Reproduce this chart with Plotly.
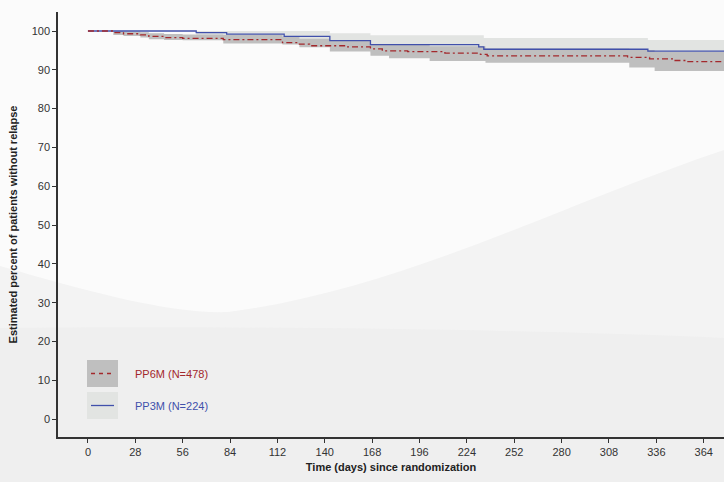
import plotly.graph_objects as go

# Kaplan-Meier estimates (percent without relapse) by arm
days_pp6m = [0, 15, 21, 31, 36, 45, 56, 80, 115, 124, 131, 153, 167, 174, 189, 211, 232, 236, 319, 332, 346, 354, 376]
surv_pp6m = [100, 99.6, 99.3, 99.0, 98.6, 98.3, 98.1, 97.8, 97.0, 96.6, 96.2, 95.9, 95.4, 94.9, 94.7, 94.3, 94.0, 93.6, 93.2, 92.8, 92.4, 92.1, 92.1]

# 95% confidence limits for PP6M
band_days_pp6m = [0, 15, 21, 31, 36, 45, 56, 80, 115, 125, 143, 167, 178, 202, 235, 320, 335, 376]
lower_pp6m = [100, 99.0, 98.7, 98.3, 97.9, 97.7, 97.6, 96.8, 96.5, 95.8, 94.7, 93.6, 93.0, 92.3, 91.8, 90.6, 89.7, 89.7]
upper_pp6m = [100, 100, 99.9, 99.7, 99.4, 99.2, 99.1, 99.0, 98.5, 98.0, 97.4, 96.6, 96.4, 96.1, 95.5, 95.1, 94.6, 94.6]

days_pp3m = [0, 64, 82, 116, 143, 167, 231, 234, 331, 376]
surv_pp3m = [100, 99.6, 99.2, 98.6, 97.5, 96.5, 95.9, 95.3, 94.8, 94.8]
lower_pp3m = [100, 98.6, 98.0, 97.2, 95.8, 94.4, 93.8, 93.0, 92.4, 92.4]
upper_pp3m = [100, 100, 100, 100, 99.4, 98.9, 98.9, 98.2, 97.7, 97.7]

x_ticks = [0, 28, 56, 84, 112, 140, 168, 196, 224, 252, 280, 308, 336, 364]
y_ticks = [0, 10, 20, 30, 40, 50, 60, 70, 80, 90, 100]

legend_labels = ["PP6M (N=478)", "PP3M (N=224)"]

RED = "#a3282c"
BLUE = "#4150ab"
BAND_DARK = "#bfbfbf"
BAND_LIGHT = "#e2e4e2"
FONT = "Liberation Sans, Arial, sans-serif"

W, H = 724, 482
ML, MR, MT, MB = 58, 0, 12, 45


def px(x):
    return (x - ML) / (W - ML - MR)


def py(y):
    return (H - MB - y) / (H - MT - MB)


fig = go.Figure()

# confidence bands (PP3M light underneath, PP6M dark on top)
fig.add_trace(go.Scatter(x=days_pp3m, y=lower_pp3m, mode="lines", line=dict(width=0, shape="hv"),
                         hoverinfo="skip", showlegend=False))
fig.add_trace(go.Scatter(x=days_pp3m, y=upper_pp3m, mode="lines", line=dict(width=0, shape="hv"),
                         fill="tonexty", fillcolor=BAND_LIGHT, hoverinfo="skip", showlegend=False))
fig.add_trace(go.Scatter(x=band_days_pp6m, y=lower_pp6m, mode="lines", line=dict(width=0, shape="hv"),
                         hoverinfo="skip", showlegend=False))
fig.add_trace(go.Scatter(x=band_days_pp6m, y=upper_pp6m, mode="lines", line=dict(width=0, shape="hv"),
                         fill="tonexty", fillcolor=BAND_DARK, hoverinfo="skip", showlegend=False))

# survival curves
fig.add_trace(go.Scatter(x=days_pp3m, y=surv_pp3m, mode="lines",
                         line=dict(color=BLUE, width=1.3, shape="hv"), name=legend_labels[1], showlegend=False))
fig.add_trace(go.Scatter(x=days_pp6m, y=surv_pp6m, mode="lines",
                         line=dict(color=RED, width=1.3, shape="hv", dash="6px,3px,2px,3px"),
                         name=legend_labels[0], showlegend=False))

shapes = []
# faint textured backdrop
shapes.append(dict(type="path", xref="paper", yref="paper", layer="below",
                   path=("M {a},{b} C {c},{d} {e},{f} {g},{h} C {i},{j} {k},{l} {m},{n} L {m},{o} L {a},{o} Z").format(
                       a=px(0), b=py(266), c=px(90), d=py(292), e=px(170), f=py(314), g=px(228), h=py(312),
                       i=px(400), j=py(290), k=px(560), l=py(205), m=px(724), n=py(150), o=py(482)),
                   fillcolor="#f3f3f3", line=dict(width=0)))
shapes.append(dict(type="path", xref="paper", yref="paper", layer="below",
                   path=("M {a},{b} C {c},{d} {e},{f} {g},{h} L {g},{i} L {a},{i} Z").format(
                       a=px(0), b=py(328), c=px(200), d=py(326), e=px(500), f=py(328), g=px(724), h=py(338), i=py(482)),
                   fillcolor="#efefef", line=dict(width=0)))

# legend swatches
legend_rows = [(360, 387, BAND_DARK, RED, "dash"), (392, 419, BAND_LIGHT, BLUE, "solid")]
annotations = []
for (y0, y1, fillc, linec, dash), label in zip(legend_rows, legend_labels):
    shapes.append(dict(type="rect", xref="paper", yref="paper", x0=px(87), x1=px(118), y0=py(y1), y1=py(y0),
                       fillcolor=fillc, line=dict(width=0), layer="above"))
    ym = (y0 + y1) / 2
    shapes.append(dict(type="line", xref="paper", yref="paper", x0=px(91), x1=px(114), y0=py(ym), y1=py(ym),
                       line=dict(color=linec, width=1.3, dash="4px,4px" if dash == "dash" else "solid"), layer="above"))
    annotations.append(dict(xref="paper", yref="paper", x=px(133), y=py(ym), xanchor="left", yanchor="middle",
                            text=label, showarrow=False, font=dict(family=FONT, size=11, color=linec)))

fig.update_layout(
    width=W, height=H,
    margin=dict(l=ML, r=MR, t=MT, b=MB),
    paper_bgcolor="#fbfbfb",
    plot_bgcolor="rgba(0,0,0,0)",
    font=dict(family=FONT, size=11, color="#333333"),
    shapes=shapes,
    annotations=annotations,
    showlegend=False,
    xaxis=dict(range=[-17.7, 376], tickvals=x_ticks, ticks="outside", ticklen=4, tickcolor="#333",
               showline=True, linecolor="#333", linewidth=1.5, showgrid=False, zeroline=False,
               title=dict(text="<b>Time (days) since randomization</b>", font=dict(size=11, color="#222"), standoff=6),
               tickfont=dict(size=11, color="#333")),
    yaxis=dict(range=[-4.6, 104.9], tickvals=y_ticks, ticks="outside", ticklen=4, tickcolor="#333",
               showline=True, linecolor="#333", linewidth=1.5, showgrid=False, zeroline=False,
               title=dict(text="<b>Estimated percent of patients without relapse</b>", font=dict(size=11, color="#222"),
                          standoff=12),
               tickfont=dict(size=11, color="#333")),
)

fig.write_html("out.html")
